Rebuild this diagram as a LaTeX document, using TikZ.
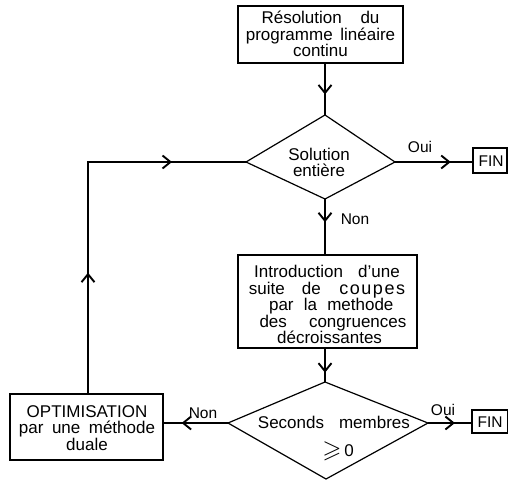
\documentclass[tikz,border=0pt]{standalone}
\usepackage{fontspec}
\usepackage{amssymb}
\usepackage{graphicx}
\setmainfont{Liberation Sans}
\usetikzlibrary{arrows.meta,decorations.markings}
\tikzset{barbtip/.tip={Straight Barb[length=8pt,width=13pt,line width=1.9pt]}}
\begin{document}
\begin{tikzpicture}[x=1pt,y=-1pt,
  line width=1.1pt,
  box/.style={draw, line width=1.2pt, inner sep=0pt},
  txt/.style={font=\fontsize{17}{16.5}\selectfont, align=center, inner sep=0pt},
  lbl/.style={font=\fontsize{15.5}{16}\selectfont, inner sep=0pt},
  barb/.style={postaction={decorate},decoration={markings,
     mark=at position #1 with {\arrow{barbtip}}}},
  barbtwo/.style 2 args={postaction={decorate},decoration={markings,
     mark=at position #1 with {\arrow{barbtip}},
     mark=at position #2 with {\arrow{barbtip}}}},
]
\useasboundingbox (0,0) rectangle (508,481);

% boxes
\node[box, minimum width=165pt, minimum height=57pt] (res) at (320.5,34.5) {};
\node[txt] (restxt) at (320.5,34) {R\'esolution\hspace{1.1em}du\\programme\hspace{0.45em}lin\'eaire\\continu};

\node[box, minimum width=179pt, minimum height=93pt] (intro) at (327.5,301.5) {};
\node[txt] (introtxt) at (327,304.5) {Introduction\hspace{0.9em}d'une\\suite\hspace{1em}de\hspace{1.1em}{\fontsize{18}{16.5}\selectfont c\kern1.5pt o\kern1.5pt u\kern1.5pt p\kern1.5pt e\kern1.5pt s}\hspace{0.3em}\\\hspace{0.5em}par\hspace{0.6em}la\hspace{0.6em}methode\\\hspace{0.7em}des\hspace{1.3em}congruences\\\hspace{0.3em}d\'ecroissantes};

\node[box, minimum width=153pt, minimum height=66pt] (opt) at (86.5,427) {};
\node[txt] (opttxt) at (87,428) {OPTIMISATION\\par\hspace{0.5em}une\hspace{0.5em}m\'ethode\\duale};

\node[box, minimum width=34pt, minimum height=25pt] (fin1) at (490,160.5) {};
\node[lbl, anchor=west] (fin1t) at (478,161) {FIN};
\node[box, minimum width=36pt, minimum height=23pt] (fin2) at (490,421.5) {};
\node[lbl, anchor=west] (fin2t) at (477,422.5) {FIN};

% diamond 1
\coordinate (d1n) at (325,115);
\coordinate (d1w) at (246,162);
\coordinate (d1e) at (395,162);
\coordinate (d1s) at (325,199);
\draw[line width=1.2pt] (d1n) -- (d1e) -- (d1s) -- (d1w) -- cycle;
\node[txt, font=\fontsize{17}{16}\selectfont] (d1t) at (319,162.5) {Solution\\enti\`ere};

% diamond 2
\coordinate (d2n) at (325,382);
\coordinate (d2w) at (228,423);
\coordinate (d2e) at (428,423);
\coordinate (d2s) at (326,479);
\draw[line width=1.2pt] (d2n) -- (d2e) -- (d2s) -- (d2w) -- cycle;
\node[txt] (d2a) at (291,422) {Seconds};
\node[txt] (d2b) at (374.5,422) {membres};
\node[txt] (d2c) at (338,451) {\raisebox{-1pt}{\scalebox{1.45}{$\geqslant$}}\,0};

% connectors
\draw[barb=0.6] (res.south -| d1n) -- (d1n);
\draw[barb=0.42] (d1s) -- (intro.north -| d1s);
\draw[barb=0.72] (intro.south -| d2n) -- (d2n);
\draw[barb=0.72] (d1e) -- (fin1.west |- d1e);
\draw[barb=0.62] (d2e) -- (fin2.west |- d2e);
\draw[barb=0.72] (d2w) -- (opt.east |- d2w);
\coordinate (corner) at (88,162);
\draw[barbtwo={0.31}{0.81}] (opt.north -| corner) -- (corner) -- (d1w);

% labels
\node[lbl] (oui1) at (420,147) {Oui};
\node[lbl] (non1) at (355,219) {Non};
\node[lbl] (non2) at (203,413) {Non};
\node[lbl] (oui2) at (443,410) {Oui};
\end{tikzpicture}
\end{document}
